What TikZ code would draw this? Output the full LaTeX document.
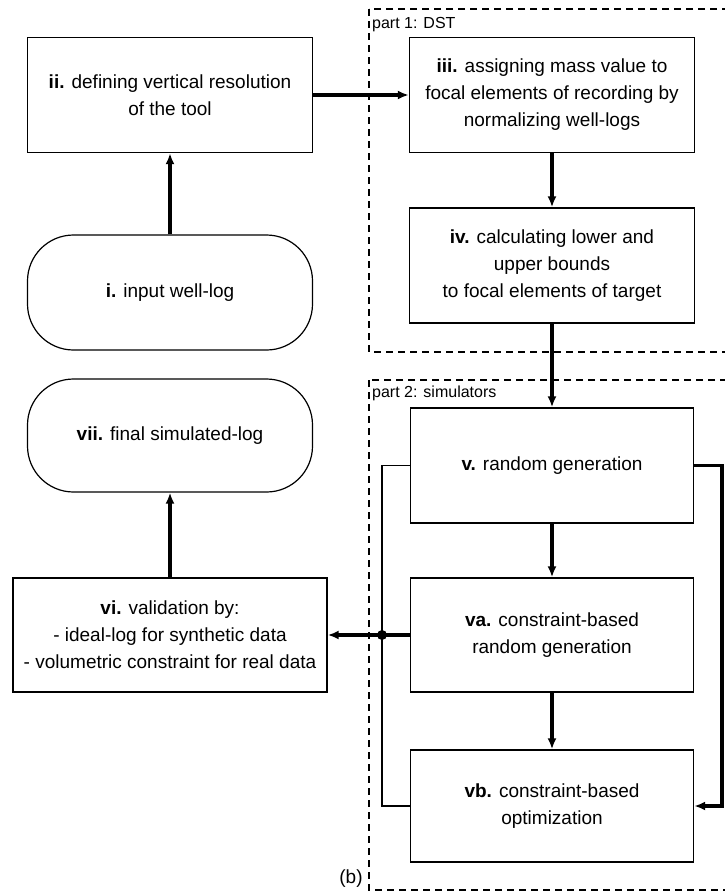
\documentclass[tikz,border=0pt]{standalone}
\usepackage{fontspec}
\setmainfont{Liberation Sans}
\usetikzlibrary{arrows.meta}

\begin{document}
\begin{tikzpicture}[x=1pt,y=-1pt,font=\fontsize{19}{27}\selectfont,
  stepbox/.style={draw,line width=1.4pt,minimum width=285pt,minimum height=115pt,
    align=center,inner sep=0pt},
  termbox/.style={stepbox,line width=1.2pt,rounded corners=46pt},
  partbox/.style={draw,line width=1.2pt,dash pattern=on 7pt off 5pt},
  partlabel/.style={anchor=west,inner sep=0pt,font=\fontsize{16}{18}\selectfont},
  arr/.style={line width=3.2pt,-{Latex[length=11pt,width=9pt]}},
  thinline/.style={line width=1.4pt}]
\useasboundingbox (0,0) rectangle (724,894);
% the two dashed groups
\draw[partbox] (369,9) rectangle (740,352);
\node[partlabel] (p1) at (372,25) {part 1: DST};
\draw[partbox] (369,380) rectangle (740,890);
\node[partlabel] (p2) at (372,393) {part 2: simulators};
\node[inner sep=0pt] (fig) at (351,879) {(b)};
% left column
\node[termbox] (i) at (170,292.5) {\textbf{i.} input well-log};
\node[stepbox] (ii) at (170,95) {\textbf{ii.} defining vertical resolution\\of the tool};
\node[stepbox,minimum width=314pt,minimum height=114pt] (vi) at (170,635)
  {\textbf{vi.} validation by:\\- ideal-log for synthetic data\\- volumetric constraint for real data};
\node[termbox,minimum height=113pt] (vii) at (170,435.5) {\textbf{vii.} final simulated-log};
% right column
\node[stepbox] (iii) at (552,95)
  {\textbf{iii.} assigning mass value to\\focal elements of recording by\\normalizing well-logs};
\node[stepbox] (iv) at (552,265.5)
  {\textbf{iv.} calculating lower and\\upper bounds\\to focal elements of target};
\node[stepbox,minimum width=283pt] (v) at (552,465.5) {\textbf{v.} random generation};
\node[stepbox,minimum width=283pt,minimum height=114pt] (va) at (552,635)
  {\textbf{va.} constraint-based\\random generation};
\node[stepbox,minimum width=283pt,minimum height=112pt] (vb) at (552,806)
  {\textbf{vb.} constraint-based\\optimization};
% connectors
\foreach \A/\B in {i/ii,iii/iv,iv/v,v/va,va/vb,vi/vii}
  \draw[arr] (\A) -- (\B);
\draw[arr] (ii) -- (iii);
\coordinate (jn) at (382,635);
\coordinate (rt) at (722,465.5);
\draw[thinline] (v.west) -| (jn) |- (vb.west);
\draw[arr] (va.west) -- (vi.east);
\fill (jn) circle (5pt);
\draw[arr] (v.east) -- (rt) |- (vb.east);
\end{tikzpicture}
\end{document}
